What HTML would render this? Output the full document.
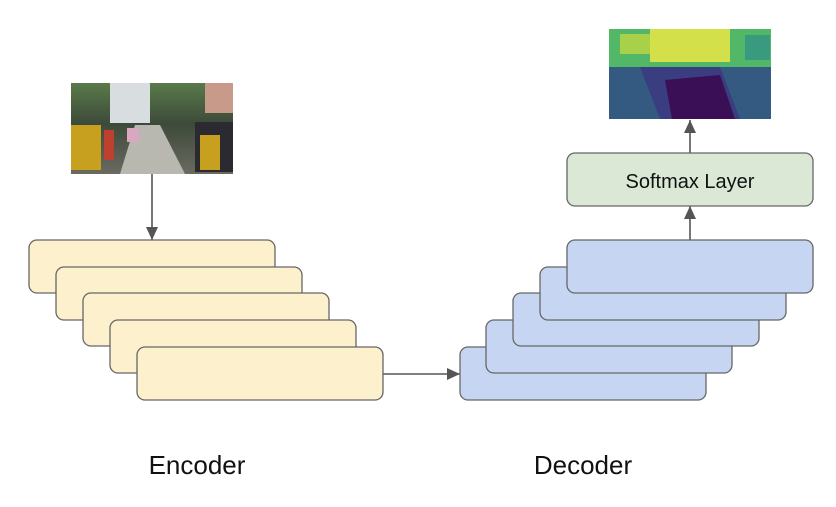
<!DOCTYPE html>
<html><head><style>
body{margin:0;background:#fff;width:836px;height:502px;overflow:hidden;font-family:"Liberation Sans",Arial,sans-serif}
</style></head><body>
<svg width="836" height="502" viewBox="0 0 836 502" xmlns="http://www.w3.org/2000/svg">
<defs>
<marker id="a" markerWidth="14" markerHeight="14" refX="13" refY="6" orient="auto" markerUnits="userSpaceOnUse"><path d="M0,0 L13,6 L0,12 z" fill="#555"/></marker>
<linearGradient id="sky" x1="0" y1="0" x2="0" y2="1"><stop offset="0" stop-color="#5a7a4a"/><stop offset="0.45" stop-color="#3d4a3a"/><stop offset="1" stop-color="#6a6a60"/></linearGradient>
</defs>
<rect x="71" y="83" width="162" height="91" fill="url(#sky)"/>
<rect x="110" y="83" width="40" height="40" fill="#d8dde0"/>
<rect x="205" y="83" width="28" height="30" fill="#c89a8a"/>
<polygon points="120,174 135,125 160,125 185,174" fill="#b8b8b0"/>
<rect x="71" y="125" width="30" height="45" fill="#c8a020"/>
<rect x="195" y="122" width="38" height="50" fill="#2a2a30"/>
<rect x="200" y="135" width="20" height="35" fill="#c8a020"/>
<rect x="104" y="130" width="10" height="30" fill="#c04030"/>
<rect x="127" y="128" width="12" height="14" fill="#d8a8c0"/>
<rect x="609" y="29" width="162" height="90" fill="#355a82"/>
<rect x="609" y="29" width="162" height="38" fill="#52b868"/>
<rect x="650" y="29" width="80" height="33" fill="#d4e04a"/>
<rect x="620" y="34" width="30" height="20" fill="#a8d048"/>
<path d="M640,67 L720,67 L740,119 L660,119 Z" fill="#3a3d80"/>
<path d="M665,80 L720,75 L735,119 L672,119 Z" fill="#3a0f55"/>
<rect x="745" y="35" width="25" height="25" fill="#3a9a80"/>
<line x1="152" y1="174" x2="152" y2="240" stroke="#555" stroke-width="1.6" marker-end="url(#a)"/>
<line x1="382" y1="374" x2="460" y2="374" stroke="#555" stroke-width="1.6" marker-end="url(#a)"/>
<line x1="690" y1="240" x2="690" y2="206" stroke="#555" stroke-width="1.6" marker-end="url(#a)"/>
<line x1="690" y1="153" x2="690" y2="120" stroke="#555" stroke-width="1.6" marker-end="url(#a)"/>
<g fill="#fdf0cc" stroke="#666" stroke-width="1.3">
<rect x="29" y="240" width="246" height="53" rx="8"/>
<rect x="56" y="267" width="246" height="53" rx="8"/>
<rect x="83" y="293" width="246" height="53" rx="8"/>
<rect x="110" y="320" width="246" height="53" rx="8"/>
<rect x="137" y="347" width="246" height="53" rx="8"/>
</g>
<g fill="#c6d6f2" stroke="#666" stroke-width="1.3">
<rect x="460" y="347" width="246" height="53" rx="8"/>
<rect x="486" y="320" width="246" height="53" rx="8"/>
<rect x="513" y="293" width="246" height="53" rx="8"/>
<rect x="540" y="267" width="246" height="53" rx="8"/>
<rect x="567" y="240" width="246" height="53" rx="8"/>
</g>
<rect x="567" y="153" width="246" height="53" rx="8" fill="#dbe8d5" stroke="#666" stroke-width="1.3"/>
<text x="690" y="188" font-size="20" text-anchor="middle" fill="#111">Softmax Layer</text>
<text x="197" y="474" font-size="26" text-anchor="middle" fill="#111">Encoder</text>
<text x="583" y="474" font-size="26" text-anchor="middle" fill="#111">Decoder</text>
</svg>
</body></html>
